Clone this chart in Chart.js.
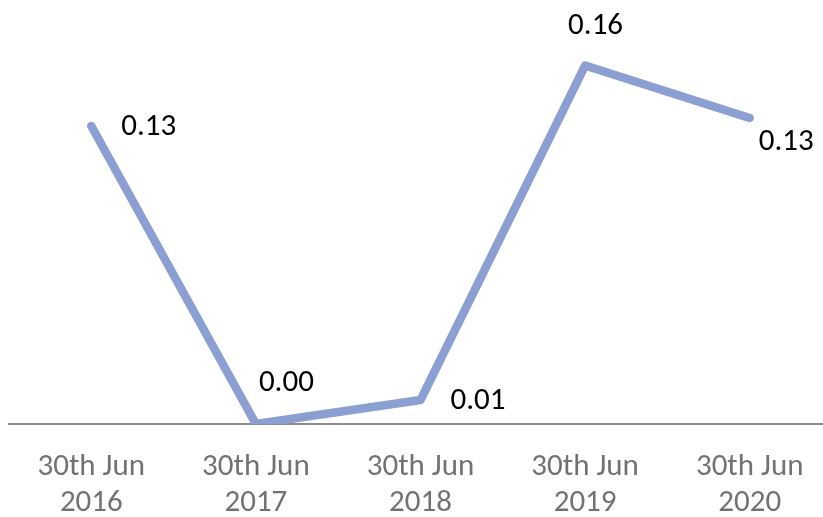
<!DOCTYPE html>
<html>
<head>
  <script src="https://cdn.jsdelivr.net/npm/chart.js"></script>
  <style>
    html, body {
      margin: 0;
      padding: 0;
      background: #fff;
      overflow: hidden;
    }
    #wrap {
      width: 832px;
      height: 517px;
    }
  </style>
</head>
<body>
  <div id="wrap">
    <canvas id="myChart" width="832" height="517"></canvas>
  </div>

  <script>
  // data
  var categories = [
    ['30th Jun', '2016'],
    ['30th Jun', '2017'],
    ['30th Jun', '2018'],
    ['30th Jun', '2019'],
    ['30th Jun', '2020']
  ];
  var values = [0.1305, 0.0, 0.0105, 0.157, 0.134];

  // where each value label sits relative to its point (px)
  var labelOffsets = [[30, 1], [3, -41], [30, 1], [-17, -39], [9, 24]];

  var fontStack = "Carlito, Calibri, 'Open Sans', sans-serif";

  var valueLabels = {
    id: 'valueLabels',
    afterDatasetsDraw: function(chart) {
      var ctx = chart.ctx;
      var meta = chart.getDatasetMeta(0);
      ctx.save();
      ctx.font = '31px ' + fontStack;
      ctx.fillStyle = '#000';
      ctx.textAlign = 'left';
      ctx.textBaseline = 'middle';
      meta.data.forEach(function(pt, i) {
        var off = labelOffsets[i];
        ctx.fillText(values[i].toFixed(2), pt.x + off[0], pt.y + off[1]);
      });
      ctx.restore();
    }
  };

  var ctx = document.getElementById('myChart').getContext('2d');
  var myChart = new Chart(ctx, {
    type: 'line',
    data: {
      labels: categories,
      datasets: [{
        data: values,
        borderColor: '#8c9fd2',
        borderWidth: 8.5,
        borderCapStyle: 'round',
        borderJoinStyle: 'round',
        pointRadius: 0,
        tension: 0,
        fill: false
      }]
    },
    plugins: [valueLabels],
    options: {
      responsive: false,
      animation: false,
      layout: {
        padding: { top: 21, left: 9, right: 0, bottom: 0 }
      },
      plugins: {
        legend: { display: false },
        tooltip: { enabled: false }
      },
      scales: {
        x: {
          offset: true,
          grid: { display: false, drawTicks: false },
          border: { display: true, color: '#8c8c8c', width: 2 },
          ticks: {
            color: '#767171',
            padding: 25,
            maxRotation: 0,
            autoSkip: false,
            font: { family: fontStack, size: 31, lineHeight: 1.16 }
          },
          afterFit: function(axis) { axis.height = 93; }
        },
        y: {
          display: false,
          min: 0,
          max: 0.1765
        }
      }
    }
  });
  </script>
</body>
</html>
